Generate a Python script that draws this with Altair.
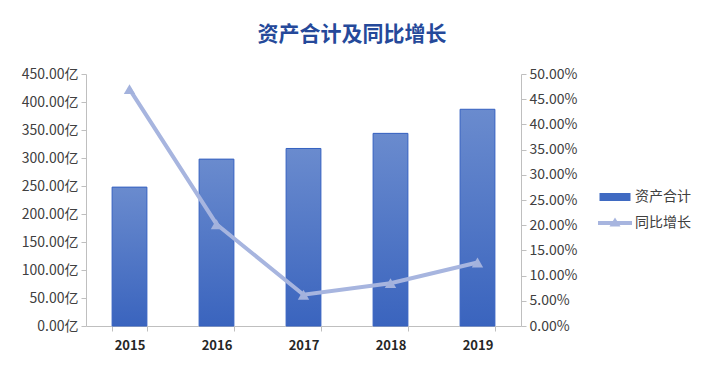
import altair as alt
import pandas as pd

years = ["2015", "2016", "2017", "2018", "2019"]
assets = [248, 298, 317, 344, 387]          # 亿
growth = [0.470, 0.202, 0.062, 0.085, 0.126]  # 同比增长
series = ["资产合计", "同比增长"]

df = pd.DataFrame({"year": years, "assets": assets, "growth": growth})
leg_df = pd.DataFrame({"s": series})

FONT = "Noto Sans CJK SC"
AXIS_GRAY = "#BFBFBF"

x = alt.X("year:N", title=None, sort=years,
          scale=alt.Scale(paddingInner=0.6, paddingOuter=0.3),
          axis=alt.Axis(labelAngle=0, labelFontSize=13, labelFontWeight="bold",
                        labelColor="#262626", domainColor=AXIS_GRAY, tickColor=AXIS_GRAY,
                        tickSize=5, tickBand="extent", labelPadding=8, grid=False))

grad = alt.Gradient(gradient="linear",
                    stops=[alt.GradientStop(color="#6A8BCE", offset=0),
                           alt.GradientStop(color="#3A64BE", offset=1)],
                    x1=0, x2=0, y1=0, y2=1)

bars = alt.Chart(df).mark_bar(fill=grad, stroke="#3460C0", strokeWidth=1).encode(
    x=x,
    y=alt.Y("assets:Q", title=None,
            scale=alt.Scale(domain=[0, 450], nice=False),
            axis=alt.Axis(values=list(range(0, 451, 50)),
                          labelExpr="format(datum.value, '.2f') + '亿'",
                          labelFontSize=14, labelColor="#404040",
                          domainColor=AXIS_GRAY, tickColor=AXIS_GRAY, tickSize=5,
                          grid=False, labelPadding=3, minExtent=73, maxExtent=73)),
)

line = alt.Chart(df).mark_line(
    color="#A7B5DF", strokeWidth=4,
    point=alt.OverlayMarkDef(shape="triangle-up", size=130, filled=True, color="#A3B2DD"),
).encode(
    x=x,
    y=alt.Y("growth:Q", title=None,
            scale=alt.Scale(domain=[0, 0.5], nice=False),
            axis=alt.Axis(orient="right", values=[i * 0.05 for i in range(11)],
                          format=".2%", labelFontSize=14, labelColor="#404040",
                          domainColor=AXIS_GRAY, tickColor=AXIS_GRAY, tickSize=5,
                          grid=False, labelPadding=3)),
)

leg_props = dict(title=None, orient="none", legendX=519, legendY=113,
                 labelFontSize=14, labelColor="#404040", labelFont=FONT,
                 symbolSize=400, symbolOpacity=1, symbolStrokeWidth=0,
                 labelOffset=10, rowPadding=9, padding=0)

legend_layer = alt.Chart(leg_df).mark_point(filled=True, opacity=0).encode(
    color=alt.Color("s:N", sort=series,
                    scale=alt.Scale(domain=series, range=["#3F6AC2", "#A7B5DF"]),
                    legend=alt.Legend(**leg_props)),
    shape=alt.Shape("s:N", sort=series,
                    scale=alt.Scale(domain=series,
                                    range=["M-1.55,-0.4H1.55V0.4H-1.55Z",
                                           "M-1.7,-0.2H1.7V0.2H-1.7Z M0,-0.55L0.55,0.35H-0.55Z"]),
                    legend=alt.Legend(**leg_props)),
)

chart = alt.layer(bars, line, legend_layer).resolve_scale(y="independent").properties(
    width=435, height=252,
    title=alt.Title("资产合计及同比增长", fontSize=21, fontWeight="bold", color="#25499A",
                    font=FONT, anchor="middle", frame="bounds", offset=22),
    padding={"left": 5, "top": 16, "right": 5, "bottom": 5},
).configure(font=FONT).configure_view(stroke=None).configure_axis(labelFont=FONT)

chart.save("out.html", embed_options={"renderer": "svg", "actions": False})
